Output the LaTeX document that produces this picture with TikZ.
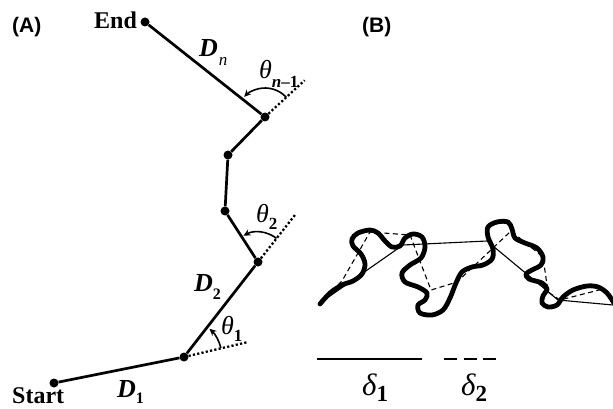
\documentclass[tikz,border=0pt]{standalone}
\usepackage{fontspec}
\setmainfont{Liberation Serif}
\newfontfamily\panelsans{Liberation Sans}
\usetikzlibrary{arrows.meta,calc}
\begin{document}
\begin{tikzpicture}[x=1pt,y=-1pt,
  seg/.style={line width=2.7pt},
  jdot/.style={circle,fill=black,inner sep=0pt,minimum size=9pt},
  extn/.style={line width=2.3pt,dash pattern=on 2.2pt off 2.2pt},
  angarc/.style={line width=1.6pt,-{Stealth[length=7pt,width=6.5pt]}},
  panel/.style={font=\panelsans\bfseries\fontsize{21}{21}\selectfont,anchor=base west,inner sep=0pt},
  word/.style={font=\bfseries\fontsize{24}{24}\selectfont,anchor=base west,inner sep=0pt},
  lbl/.style={anchor=base west,inner sep=0pt},
  chain/.style={line width=4.8pt,line cap=round,line join=round},
  thinline/.style={line width=1.1pt},
  dashline/.style={line width=1.1pt,dash pattern=on 5pt off 3.5pt}
]
\useasboundingbox (0,0) rectangle (613,409);

% panel labels
\node[panel] (labA) at (12,33) {(A)};
\node[panel] (labB) at (362,33) {(B)};

% chain joints
\node[jdot] (End) at (145,22) {};
\node[jdot] (J1) at (265,117) {};
\node[jdot] (J2) at (228,155) {};
\node[jdot] (J3) at (225,211) {};
\node[jdot] (J4) at (258,262) {};
\node[jdot] (J5) at (184,357) {};
\node[jdot] (Start) at (54,383) {};

\draw[seg] (Start) -- (J5) -- (J4) -- (J3) -- (J2) -- (J1) -- (End);

% dotted extensions
\coordinate (x1) at ($(J1)+(42.8:54pt)$);
\coordinate (x4) at ($(J4)+(51.8:60pt)$);
\coordinate (x5) at ($(J5)+(13.2:66pt)$);
\draw[extn] (J1) -- (x1);
\draw[extn] (J4) -- (x4);
\draw[extn] (J5) -- (x5);

% angle arcs
\draw[angarc] ($(J1)+(43:29pt)$) arc[start angle=43,end angle=136,radius=29pt];
\draw[angarc] ($(J4)+(52:30pt)$) arc[start angle=52,end angle=119,radius=30pt];
\draw[angarc] ($(J5)+(14:38pt)$) arc[start angle=14,end angle=48,radius=38pt];

% words
\node[word] (tEnd) at (94,29) {End};
\node[word] (tStart) at (12,403) {Start};

% labels
\node[lbl] (lDn) at (199,57) {\fontsize{26}{26}\selectfont\bfseries\itshape D\hspace{1pt}\raisebox{-9pt}{\fontsize{17}{17}\selectfont\mdseries\itshape n}};
\node[lbl] (lD2) at (194,291) {\fontsize{26}{26}\selectfont\bfseries\itshape D\raisebox{-8pt}{\fontsize{16}{16}\selectfont\upshape 2}};
\node[lbl] (lD1) at (117,397) {\fontsize{26}{26}\selectfont\bfseries\itshape D\raisebox{-6pt}{\fontsize{16}{16}\selectfont\upshape 1}};
\node[lbl] (lTn) at (259,79) {\fontsize{26}{26}\selectfont\itshape θ\raisebox{-9pt}{\fontsize{17}{17}\selectfont\bfseries\itshape n\upshape –1}};
\node[lbl] (lT2) at (256,222) {\fontsize{26}{26}\selectfont\itshape θ\raisebox{-7pt}{\fontsize{17}{17}\selectfont\bfseries\upshape 2}};
\node[lbl] (lT1) at (221,334) {\fontsize{26}{26}\selectfont\itshape θ\raisebox{-7pt}{\fontsize{17}{17}\selectfont\bfseries\upshape 1}};

% panel B: polymer chain
\draw[chain] plot[smooth,tension=0.55] coordinates {
(320,304) (330,293) (342,285) (353,281) (362,274) (365,264) (361,254) (353,246) (352,239) (358,233) (370,230) (378,233) (385,241) (392,247) (400,246) (405,238) (413,234) (422,237) (425,247) (421,258) (410,265) (402,273) (405,282) (418,287) (427,293) (425,300) (418,305) (420,313) (432,315) (443,310) (450,298) (456,283) (462,272) (472,267) (483,265) (492,259) (493,249) (488,237) (488,227) (497,222) (508,222) (512,229) (515,238) (525,243) (537,248) (543,257) (541,265) (532,270) (526,274) (529,279) (542,283) (547,289) (543,296) (542,303) (548,307) (557,305) (563,297) (573,290) (587,286) (598,287) (607,293) (614,303)};

% coarse (solid) steps
\coordinate (p0) at (320,303);
\coordinate (p1) at (403,245);
\coordinate (p2) at (487,241);
\coordinate (p3) at (558,300);
\coordinate (p4) at (613,305);
\draw[thinline] (p0) -- (p1) -- (p2) -- (p3) -- (p4);

% fine (dashed) steps
\coordinate (q0) at (320,303);
\coordinate (q1) at (342,281);
\coordinate (q2) at (370,232);
\coordinate (q3) at (410,235);
\coordinate (q4) at (431,290);
\coordinate (q5) at (457,282);
\coordinate (q6) at (511,231);
\coordinate (q7) at (543,257);
\coordinate (q8) at (548,292);
\coordinate (q9) at (560,300);
\coordinate (q10) at (603,289);
\coordinate (q11) at (613,302);
\draw[dashline] (q0) -- (q1) -- (q2) -- (q3) -- (q4) -- (q5) -- (q6) -- (q7) -- (q8) -- (q9) -- (q10) -- (q11);

% scale bars
\coordinate (s1a) at (317,359);
\coordinate (s1b) at (422,359);
\coordinate (s2a) at (444,359);
\coordinate (s2b) at (496,359);
\draw[line width=2.8pt] (s1a) -- (s1b);
\draw[line width=2.8pt,dash pattern=on 13pt off 6.5pt] (s2a) -- (s2b);
\node[lbl] (d1) at (362,395) {\fontsize{31}{31}\selectfont\itshape δ\raisebox{-6pt}{\fontsize{23}{23}\selectfont\bfseries\upshape 1}};
\node[lbl] (d2) at (461,395) {\fontsize{31}{31}\selectfont\itshape δ\raisebox{-6pt}{\fontsize{23}{23}\selectfont\bfseries\upshape 2}};
\end{tikzpicture}
\end{document}
